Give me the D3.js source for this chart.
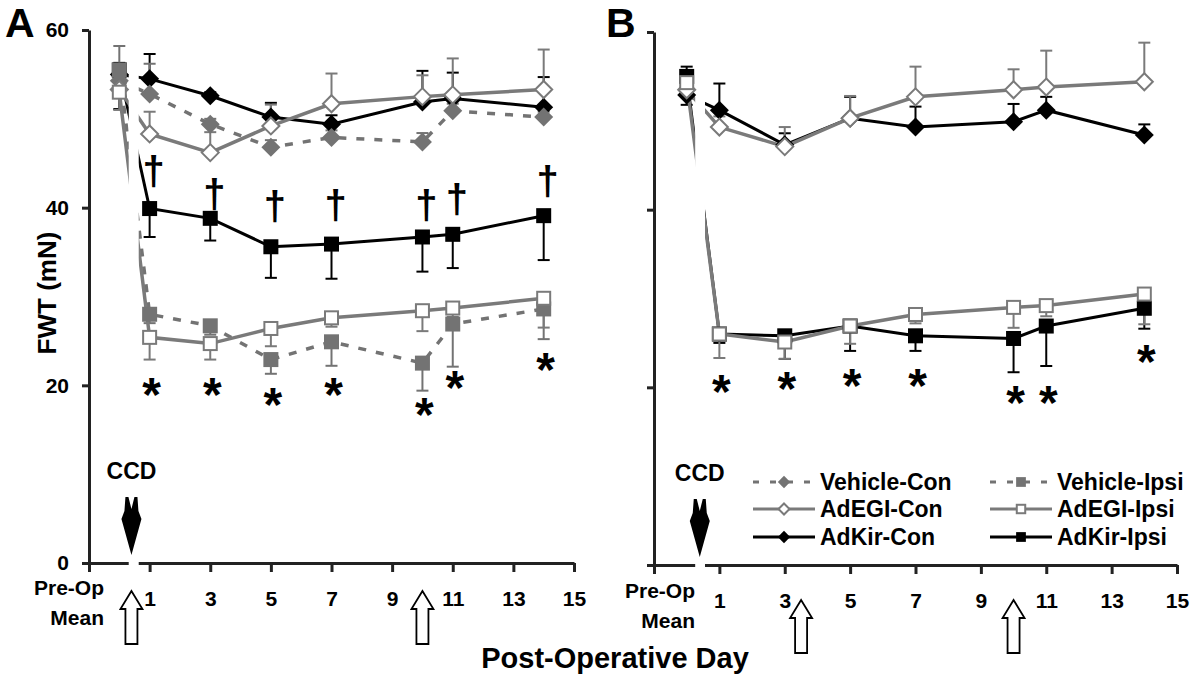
<!DOCTYPE html>
<html><head><meta charset="utf-8">
<script src="https://cdn.jsdelivr.net/npm/d3@7/dist/d3.min.js"></script>
<style>
body{margin:0;background:#fff}
svg{display:block}
text{font-family:"Liberation Sans",Arial,sans-serif;font-weight:bold;fill:#000}
</style>
</head><body>
<svg id="c" width="1200" height="679"></svg>
<script>
// ---------- data ----------
const days = [0, 1, 3, 5, 7, 10, 11, 14];          // 0 = Pre-Op Mean
const xTickDays = [-1, 1, 3, 5, 7, 9, 11, 13, 15];
const yTicks = [0, 20, 40, 60];

// Panel A
const vehicleConA     = [54.3, 52.8, 49.4, 46.8, 47.9, 47.4, 50.9, 50.2];
const vehicleConErrA  = [3.9, 3.4, 0.6, 0.8, 0.8, 1.0, 0.8, 0.6];
const vehicleIpsiA    = [55.5, 28.0, 26.7, 22.9, 24.9, 22.5, 26.9, 28.6];
const vehicleIpsiErrA = [1.0, 1.0, 1.0, 1.6, 2.7, 3.1, 4.8, 3.4];
const adegiConA       = [53.3, 48.3, 46.2, 49.2, 51.7, 52.5, 52.7, 53.3];
const adegiConErrA    = [1.0, 2.5, 2.3, 2.4, 3.4, 2.4, 4.1, 4.5];
const adegiIpsiA      = [53.0, 25.4, 24.7, 26.4, 27.6, 28.4, 28.7, 29.8];
const adegiIpsiErrA   = [2.0, 2.5, 1.8, 2.0, 1.0, 2.3, 1.0, 3.3];
const adkirConA       = [55.0, 54.5, 52.6, 50.2, 49.4, 51.9, 52.3, 51.3];
const adkirConErrA    = [1.3, 2.8, 0.4, 1.6, 1.0, 3.5, 2.9, 3.4];
const adkirIpsiA      = [55.5, 39.9, 38.8, 35.6, 35.9, 36.7, 37.0, 39.1];
const adkirIpsiErrA   = [4.4, 3.2, 2.5, 3.5, 3.9, 3.9, 3.8, 5.0];

// Panel B
const adegiConB       = [53.5, 49.3, 47.1, 50.3, 52.7, 53.5, 53.8, 54.4];
const adegiConErrB    = [1.0, 1.2, 2.2, 2.5, 3.4, 2.3, 4.1, 4.4];
const adegiIpsiB      = [54.3, 26.0, 25.1, 26.9, 28.2, 29.0, 29.2, 30.5];
const adegiIpsiErrB   = [1.5, 2.7, 1.9, 2.0, 1.0, 2.3, 1.2, 3.4];
const adkirConB       = [52.9, 51.2, 47.3, 50.3, 49.3, 49.9, 51.2, 48.4];
const adkirConErrB    = [3.2, 3.0, 1.3, 2.4, 2.3, 2.0, 1.5, 1.2];
const adkirIpsiB      = [55.0, 26.0, 25.8, 26.9, 25.8, 25.5, 26.9, 28.9];
const adkirIpsiErrB   = [3.2, 1.0, 2.6, 2.8, 1.7, 3.8, 4.5, 2.3];

// significance marks
const sigDays   = [1, 3, 5, 7, 10, 11, 14];
const asteriskA = [19.8, 19.8, 18.7, 19.8, 17.6, 20.6, 22.6];
const daggerA   = [44.2, 41.6, 40.3, 40.4, 40.4, 41.1, 43.1];
const asteriskB = [20.4, 20.7, 21.1, 21.1, 19.1, 19.1, 23.7];

// events
const ccdDay = 0.4;
const injectionDaysA = [0.4, 10];
const injectionDaysB = [3.5, 10];

const legendNames = ["Vehicle-Con", "Vehicle-Ipsi", "AdEGI-Con", "AdEGI-Ipsi", "AdKir-Con", "AdKir-Ipsi"];

// ---------- styles ----------
const GRAY = "#7a7a7a", VGRAY = "#737373", AXIS = "#222";
const styles = {
  "Vehicle-Con":  {color: VGRAY, dash: "8,10", marker: "diamond", fill: VGRAY, dir: 1},
  "Vehicle-Ipsi": {color: VGRAY, dash: "8,10", marker: "square",  fill: VGRAY, dir: -1},
  "AdEGI-Con":    {color: GRAY,  dash: null,   marker: "diamond", fill: "#fff", dir: 1},
  "AdEGI-Ipsi":   {color: GRAY,  dash: null,   marker: "square",  fill: "#fff", dir: -1},
  "AdKir-Con":    {color: "#000", dash: null,  marker: "diamond", fill: "#000", dir: 1},
  "AdKir-Ipsi":   {color: "#000", dash: null,  marker: "square",  fill: "#000", dir: -1}
};

const panels = [
  {label: "A", labelX: 5, xRange: [89, 574], yRange: [563, 30], showYLabels: true,
   brk: [0.31, 0.64], arrows: injectionDaysA, arrowTop: 591, preOpRight: 104, preOpY: 595,
   series: [
     ["AdKir-Con", adkirConA, adkirConErrA], ["AdKir-Ipsi", adkirIpsiA, adkirIpsiErrA],
     ["Vehicle-Con", vehicleConA, vehicleConErrA], ["Vehicle-Ipsi", vehicleIpsiA, vehicleIpsiErrA],
     ["AdEGI-Con", adegiConA, adegiConErrA], ["AdEGI-Ipsi", adegiIpsiA, adegiIpsiErrA]],
   asterisks: asteriskA, daggers: daggerA},
  {label: "B", labelX: 606, xRange: [654, 1177], yRange: [565, 32], showYLabels: false,
   brk: [0.26, 0.56], arrows: injectionDaysB, arrowTop: 600, preOpRight: 695, preOpY: 598,
   series: [
     ["AdKir-Con", adkirConB, adkirConErrB], ["AdKir-Ipsi", adkirIpsiB, adkirIpsiErrB],
     ["AdEGI-Con", adegiConB, adegiConErrB], ["AdEGI-Ipsi", adegiIpsiB, adegiIpsiErrB]],
   asterisks: asteriskB, daggers: null}
];

const svg = d3.select("#c");

function drawMarker(g, type, cx, cy, st, scale) {
  const s = scale || 1;
  const open = st.fill === "#fff";
  if (type === "diamond") {
    const r = (open ? 8.5 : 9.5) * s;
    g.append("path").attr("d", `M${cx},${cy - r}L${cx + r},${cy}L${cx},${cy + r}L${cx - r},${cy}Z`)
      .attr("fill", st.fill).attr("stroke", open ? st.color : "none").attr("stroke-width", 2);
  } else {
    const h = (open ? 13 : 15) * s;
    g.append("rect").attr("x", cx - h / 2).attr("y", cy - h / 2).attr("width", h).attr("height", h)
      .attr("fill", st.fill).attr("stroke", open ? st.color : "none").attr("stroke-width", 2);
  }
}

panels.forEach(p => {
  const x = d3.scaleLinear().domain([-1, 15]).range(p.xRange);
  const y = d3.scaleLinear().domain([0, 60]).range(p.yRange);
  const g = svg.append("g");

  // panel letter
  g.append("text").attr("x", p.labelX).attr("y", 37).attr("font-size", 41).text(p.label);

  // axes
  const xAxis = d3.axisBottom(x).tickValues(xTickDays).tickSize(9).tickSizeOuter(0).tickPadding(19)
    .tickFormat(d => d < 0 ? "" : d);
  const gx = g.append("g").attr("transform", `translate(0,${p.yRange[0]})`).call(xAxis);
  const yAxis = d3.axisLeft(y).tickValues(yTicks).tickSize(7).tickSizeOuter(0).tickPadding(13)
    .tickFormat(d => p.showYLabels ? d : "");
  const gy = g.append("g").attr("transform", `translate(${p.xRange[0]},0)`).call(yAxis);
  [gx, gy].forEach(a => {
    a.select(".domain").attr("stroke", AXIS).attr("stroke-width", 3);
    a.selectAll(".tick line").attr("stroke", AXIS).attr("stroke-width", 3);
    a.selectAll(".tick text").attr("font-size", 21).attr("font-family", '"Liberation Sans",Arial,sans-serif')
      .attr("font-weight", "bold").attr("fill", "#000");
  });

  // Pre-Op Mean label
  g.append("text").attr("x", p.preOpRight).attr("y", p.preOpY)
    .attr("text-anchor", "end").attr("font-size", 21).text("Pre-Op");
  g.append("text").attr("x", p.preOpRight).attr("y", p.preOpY + 30)
    .attr("text-anchor", "end").attr("font-size", 21).text("Mean");

  // error bars
  const ge = g.append("g");
  p.series.forEach(([name, vals, errs]) => {
    const st = styles[name];
    vals.forEach((v, i) => {
      const cx = x(days[i]);
      const y0 = y(v), y1 = y(v + st.dir * errs[i]);
      ge.append("line").attr("x1", cx).attr("x2", cx).attr("y1", y0).attr("y2", y1)
        .attr("stroke", st.color).attr("stroke-width", 2);
      ge.append("line").attr("x1", cx - 6).attr("x2", cx + 6).attr("y1", y1).attr("y2", y1)
        .attr("stroke", st.color).attr("stroke-width", 2);
    });
  });

  // lines
  const line = d3.line().x(d => x(d[0])).y(d => y(d[1]));
  p.series.forEach(([name, vals]) => {
    const st = styles[name];
    g.append("path").attr("d", line(vals.map((v, i) => [days[i], v])))
      .attr("fill", "none").attr("stroke", st.color)
      .attr("stroke-width", st.color === "#000" ? 3 : 3.5)
      .attr("stroke-dasharray", st.dash);
  });

  // axis break
  g.append("rect").attr("x", x(p.brk[0])).attr("width", x(p.brk[1]) - x(p.brk[0]))
    .attr("y", p.yRange[1] - 10).attr("height", p.yRange[0] - p.yRange[1] + 14).attr("fill", "#fff");

  // markers
  p.series.forEach(([name, vals]) => {
    const st = styles[name];
    vals.forEach((v, i) => drawMarker(g, st.marker, x(days[i]), y(v), st));
  });

  // asterisks
  p.asterisks.forEach((v, i) => {
    g.append("text").attr("x", x(sigDays[i]) + 2).attr("y", y(v) + 24)
      .attr("text-anchor", "middle").attr("font-size", 48)
      .attr("font-family", '"Liberation Serif","Times New Roman",serif').text("*");
  });
  if (p.daggers) {
    p.daggers.forEach((v, i) => {
      g.append("text").attr("x", x(sigDays[i]) + 4).attr("y", y(v) + 15)
        .attr("text-anchor", "middle").attr("font-size", 40).attr("font-weight", "normal")
        .attr("font-family", '"Liberation Serif","Times New Roman",serif').text("\u2020");
    });
  }

  // CCD arrow
  const cx = x(ccdDay), yb = p.yRange[0], t = yb - 66;
  g.append("text").attr("x", cx).attr("y", yb - 84).attr("text-anchor", "middle").attr("font-size", 23).text("CCD");
  g.append("path").attr("d",
    `M${cx - 6},${t} L${cx - 3},${t} L${cx},${t + 12} L${cx + 3},${t} L${cx + 6},${t}
     L${cx + 7},${t + 14} L${cx + 10},${t + 22} L${cx},${t + 58} L${cx - 10},${t + 22} L${cx - 7},${t + 14} Z`)
    .attr("fill", "#000");

  // injection arrows (open)
  p.arrows.forEach(d => {
    const ax = x(d), t0 = p.arrowTop;
    g.append("path").attr("d",
      `M${ax},${t0} L${ax + 11},${t0 + 18} L${ax + 6},${t0 + 18} L${ax + 6},${t0 + 53} L${ax - 6},${t0 + 53} L${ax - 6},${t0 + 18} L${ax - 11},${t0 + 18} Z`)
      .attr("fill", "#fff").attr("stroke", "#000").attr("stroke-width", 1.8);
  });
});

// axis titles
svg.append("text").attr("transform", "translate(56,293) rotate(-90)").attr("text-anchor", "middle")
  .attr("font-size", 26).text("FWT (mN)");
svg.append("text").attr("x", 615).attr("y", 668).attr("text-anchor", "middle")
  .attr("font-size", 29).text("Post-Operative Day");

// legend
const lg = svg.append("g");
const legCols = [753, 990], legRows = [482, 509, 537];
legendNames.forEach((name, i) => {
  const st = styles[name];
  const lx = legCols[i % 2], ly = legRows[Math.floor(i / 2)];
  lg.append("line").attr("x1", lx).attr("x2", lx + 62).attr("y1", ly).attr("y2", ly)
    .attr("stroke", st.color).attr("stroke-width", 3)
    .attr("stroke-dasharray", st.dash ? "6,11" : null);
  drawMarker(lg, st.marker, lx + 31, ly, st, 0.65);
  lg.append("text").attr("x", lx + 67).attr("y", ly + 8).attr("font-size", 23).text(name);
});
</script>
</body></html>
